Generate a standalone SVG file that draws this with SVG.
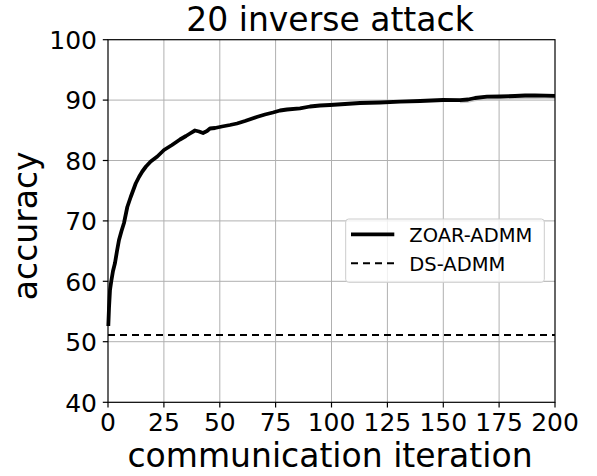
<svg xmlns="http://www.w3.org/2000/svg" width="597" height="476" viewBox="0 0 597 476">
  <style>
    .grid { stroke: #b0b0b0; stroke-width: 1; fill: none; }
    .spine { stroke: #000; stroke-width: 1.2; fill: none; }
    .tick { stroke: #000; stroke-width: 1.2; }
    .tl { font-family: "DejaVu Sans", "Liberation Sans", sans-serif; font-size: 25px; fill: #000; }
    .tlx { text-anchor: middle; }
    .tly { text-anchor: end; }
    .big { font-family: "DejaVu Sans", "Liberation Sans", sans-serif; font-size: 33px; fill: #000; }
    .leg { font-family: "DejaVu Sans", "Liberation Sans", sans-serif; font-size: 19.5px; fill: #000; }
    .zoar { stroke: #000; stroke-width: 3.8; fill: none; stroke-linejoin: round; stroke-linecap: butt; }
    .ds { stroke: #000; stroke-width: 2; fill: none; stroke-dasharray: 7 5; }
  </style>

  <rect width="597" height="476" fill="#fff"/>

  <!-- grid -->
  <g id="grid" class="grid">
    <line x1="163.9" y1="39.7" x2="163.9" y2="402.3"/>
    <line x1="219.8" y1="39.7" x2="219.8" y2="402.3"/>
    <line x1="275.6" y1="39.7" x2="275.6" y2="402.3"/>
    <line x1="331.5" y1="39.7" x2="331.5" y2="402.3"/>
    <line x1="387.4" y1="39.7" x2="387.4" y2="402.3"/>
    <line x1="443.3" y1="39.7" x2="443.3" y2="402.3"/>
    <line x1="499.1" y1="39.7" x2="499.1" y2="402.3"/>
    <line x1="108" y1="100.1" x2="555" y2="100.1"/>
    <line x1="108" y1="160.5" x2="555" y2="160.5"/>
    <line x1="108" y1="220.9" x2="555" y2="220.9"/>
    <line x1="108" y1="281.3" x2="555" y2="281.3"/>
    <line x1="108" y1="341.7" x2="555" y2="341.7"/>
  </g>

  <!-- data series -->
  <g id="series">
    <polyline points="460,101.8 468,101.2 475,99.8 487,98.5 500,98.2 515,97.8 525,97.4 535,97.4 545,97.3 555,97.4" stroke="#c8c8c8" stroke-width="3" fill="none"/>
    <line id="ds-admm" class="ds" x1="108" y1="335" x2="555" y2="335"/>
    <polyline id="zoar-admm" class="zoar" points="108.3,326 109,308 110,290 111.3,281 113,271 115,263 117,251 119,240 121.5,231 124,223 127.3,207 130.7,197 135.7,183.5 139,177 142.3,171.5 146,166.5 150.7,161.5 157.3,156.5 164,150 172,145 180,139.5 186,136 190,133.5 195,130.5 199,131.5 203,133 207,131 210,128.5 215,128 222,126.5 230,125 237,123.5 245,121 256.7,117 265,114.5 273,112.5 280,110.5 287,109.5 300,108.3 310,106.5 320,105.5 330,105 345,104 360,103 380,102.5 400,101.7 420,101 443,100 460,100.2 468,99.5 475,98 487,96.7 500,96.5 515,96 525,95.5 535,95.5 545,95.6 555,95.8"/>
  </g>

  <!-- axes frame and ticks -->
  <g id="axes">
    <rect class="spine" x="108" y="39.7" width="447" height="362.6"/>
    <g class="tick">
      <line x1="108" y1="402.3" x2="108" y2="407.5"/>
      <line x1="163.9" y1="402.3" x2="163.9" y2="407.5"/>
      <line x1="219.8" y1="402.3" x2="219.8" y2="407.5"/>
      <line x1="275.6" y1="402.3" x2="275.6" y2="407.5"/>
      <line x1="331.5" y1="402.3" x2="331.5" y2="407.5"/>
      <line x1="387.4" y1="402.3" x2="387.4" y2="407.5"/>
      <line x1="443.3" y1="402.3" x2="443.3" y2="407.5"/>
      <line x1="499.1" y1="402.3" x2="499.1" y2="407.5"/>
      <line x1="555" y1="402.3" x2="555" y2="407.5"/>
      <line x1="102.8" y1="39.7" x2="108" y2="39.7"/>
      <line x1="102.8" y1="100.1" x2="108" y2="100.1"/>
      <line x1="102.8" y1="160.5" x2="108" y2="160.5"/>
      <line x1="102.8" y1="220.9" x2="108" y2="220.9"/>
      <line x1="102.8" y1="281.3" x2="108" y2="281.3"/>
      <line x1="102.8" y1="341.7" x2="108" y2="341.7"/>
      <line x1="102.8" y1="402.3" x2="108" y2="402.3"/>
    </g>
    <g class="tl tlx">
      <text x="108" y="430.5">0</text>
      <text x="163.9" y="430.5">25</text>
      <text x="219.8" y="430.5">50</text>
      <text x="275.6" y="430.5">75</text>
      <text x="331.5" y="430.5">100</text>
      <text x="387.4" y="430.5">125</text>
      <text x="443.3" y="430.5">150</text>
      <text x="499.1" y="430.5">175</text>
      <text x="555" y="430.5">200</text>
    </g>
    <g class="tl tly">
      <text x="97" y="48.9">100</text>
      <text x="97" y="109.3">90</text>
      <text x="97" y="169.7">80</text>
      <text x="97" y="230.1">70</text>
      <text x="97" y="290.5">60</text>
      <text x="97" y="350.9">50</text>
      <text x="97" y="411.5">40</text>
    </g>
    <text class="big" x="330" y="30.7" text-anchor="middle">20 inverse attack</text>
    <text class="big" x="330" y="466.7" text-anchor="middle">communication iteration</text>
    <text class="big" transform="translate(37,225.8) rotate(-90)" text-anchor="middle">accuracy</text>
  </g>

  <!-- legend -->
  <g id="legend">
    <rect x="345.7" y="219" width="198.6" height="63.3" rx="3" fill="#fff" fill-opacity="0.8" stroke="#cccccc" stroke-width="1"/>
    <line class="zoar" x1="351" y1="234.3" x2="394.3" y2="234.3"/>
    <line class="ds" x1="351" y1="263.3" x2="394.3" y2="263.3"/>
    <text class="leg" x="409.3" y="242.3">ZOAR-ADMM</text>
    <text class="leg" x="409.3" y="271.2">DS-ADMM</text>
  </g>
</svg>
